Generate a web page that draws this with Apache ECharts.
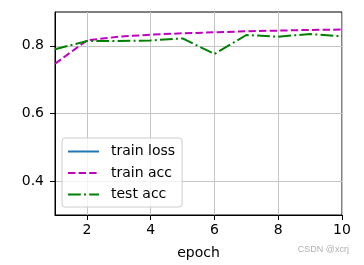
<!DOCTYPE html>
<html>
<head>
<meta charset="utf-8">
<script src="https://cdn.jsdelivr.net/npm/echarts@6/dist/echarts.min.js"></script>
<style>html,body{margin:0;padding:0;background:#fff;}#c{width:364px;height:265px;}</style>
</head>
<body>
<div id="c"></div>
<script>
const epochs = [1, 2, 3, 4, 5, 6, 7, 8, 9, 10];
const trainLoss = [];
const trainAcc = [0.747, 0.816, 0.827, 0.833, 0.837, 0.840, 0.843, 0.845, 0.847, 0.848];
const testAcc = [0.790, 0.814, 0.814, 0.816, 0.822, 0.776, 0.832, 0.827, 0.835, 0.828];
const xTicks = [2, 4, 6, 8, 10];
const yTicks = [0.4, 0.6, 0.8];
const seriesNames = ['train loss', 'train acc', 'test acc'];

const FONT = 'DejaVu Sans';
const pair = (xs, ys) => ys.map((v, i) => [xs[i], v]);

const chart = echarts.init(document.getElementById('c'), null, {renderer: 'canvas'});
chart.setOption({
  animation: false,
  backgroundColor: '#ffffff',
  textStyle: {fontFamily: FONT},
  grid: {left: 55, right: 22, top: 12, bottom: 50, show: true, borderColor: '#000', borderWidth: 1, backgroundColor: 'transparent'},
  xAxis: {
    type: 'value', min: 1, max: 10,
    name: 'epoch', nameLocation: 'middle', nameGap: 31,
    nameTextStyle: {fontFamily: FONT, fontSize: 14, color: '#000'},
    axisLine: {show: true, onZero: false, lineStyle: {color: '#000', width: 1}},
    axisTick: {show: true, length: 5, customValues: xTicks, lineStyle: {color: '#000', width: 1}},
    axisLabel: {customValues: xTicks, margin: 8, fontFamily: FONT, fontSize: 14, color: '#000'},
    splitLine: {show: true, lineStyle: {color: '#c4c4c4', width: 1}}
  },
  yAxis: {
    type: 'value', min: 0.3, max: 0.9,
    axisLine: {show: true, onZero: false, lineStyle: {color: '#000', width: 1}},
    axisTick: {show: true, length: 5, customValues: yTicks, lineStyle: {color: '#000', width: 1}},
    axisLabel: {customValues: yTicks, margin: 11, fontFamily: FONT, fontSize: 14, color: '#000',
      formatter: v => v.toFixed(1)},
    splitLine: {show: true, lineStyle: {color: '#c4c4c4', width: 1}}
  },
  legend: {
    orient: 'vertical', left: 62, top: 138,
    data: seriesNames,
    itemWidth: 31, itemHeight: 14, itemGap: 7.5,
    padding: [6.5, 7, 5.5, 5],
    backgroundColor: 'rgba(255,255,255,0.8)',
    borderColor: '#cccccc', borderWidth: 1, borderRadius: 3,
    itemStyle: {opacity: 0},
    textStyle: {fontFamily: FONT, fontSize: 14, color: '#000', padding: [0, 0, 0, 7]}
  },
  graphic: [{
    type: 'text', right: 15, top: 245,
    style: {text: 'CSDN @xcrj', fontFamily: 'Liberation Sans', fontSize: 9, fill: '#b0b0b0'}
  }],
  series: [
    {name: seriesNames[0], type: 'line', data: pair(epochs, trainLoss), symbol: 'none', color: '#1f77b4',
      lineStyle: {width: 2, color: '#1f77b4', type: 'solid'}},
    {name: seriesNames[1], type: 'line', data: pair(epochs, trainAcc), symbol: 'none', color: '#bf00bf',
      lineStyle: {width: 2, color: '#bf00bf', type: [7.4, 3.2]}},
    {name: seriesNames[2], type: 'line', data: pair(epochs, testAcc), symbol: 'none', color: '#008000',
      lineStyle: {width: 2, color: '#008000', type: [12.8, 3.2, 2, 3.2]}}
  ]
});
</script>
</body>
</html>
